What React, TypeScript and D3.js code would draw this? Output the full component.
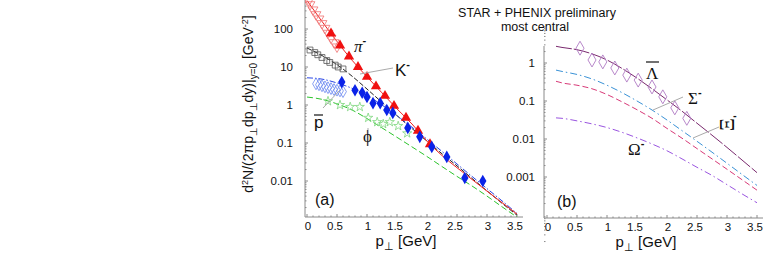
import React from 'react'
import * as d3 from 'd3'

// pT grid for the model curves (GeV)
const ptGrid = [0, 0.25, 0.5, 0.75, 1, 1.25, 1.5, 1.75, 2, 2.25, 2.5, 2.75, 3, 3.25, 3.5]
const ptGridB = [0.15, 0.25, 0.5, 0.75, 1, 1.25, 1.5, 1.75, 2, 2.25, 2.5, 2.75, 3, 3.25, 3.5]

// panel (a) model curves
const piCurve = [562, 158, 46.8, 15.1, 5.5, 2.09, 0.79, 0.316, 0.112, 0.0468, 0.0224, 0.011, 0.0054, 0.0027, 0.00135]
const kCurve = [31.6, 20, 11.5, 5.75, 2.63, 1.17, 0.525, 0.24, 0.112, 0.052, 0.025, 0.0117, 0.0055, 0.0026, 0.00126]
const pbarCurve = [5.2, 4.8, 3.8, 2.75, 1.78, 1.0, 0.52, 0.26, 0.126, 0.06, 0.028, 0.0132, 0.0063, 0.003, 0.0014]
const phiCurve = [1.62, 1.41, 1.07, 0.74, 0.44, 0.25, 0.141, 0.079, 0.044, 0.024, 0.0132, 0.0074, 0.004, 0.0021, 0.00112]

// panel (a) data points
const piStarPt = [0.03, 0.05, 0.1, 0.15, 0.2, 0.25, 0.3, 0.35, 0.4, 0.45, 0.5]
const piStarVal = [560, 440, 320, 240, 185, 140, 105, 78, 58, 44, 34]
const piPhxPt = [0.4, 0.55, 0.7, 0.85, 1.0, 1.15, 1.3, 1.45, 1.65, 1.85, 2.05]
const piPhxVal = [76, 37, 19, 10, 5.5, 3.1, 1.74, 0.95, 0.46, 0.21, 0.093]
const kStarPt = [0.05, 0.13, 0.18, 0.25, 0.33, 0.38, 0.47, 0.52, 0.6]
const kStarVal = [28, 24, 21, 17.8, 14.8, 13.2, 11.2, 10, 8.9]
const pbarStarPt = [0.15, 0.2, 0.25, 0.3, 0.35, 0.4, 0.45, 0.5, 0.55, 0.6]
const pbarStarVal = [3.6, 3.4, 3.2, 3.0, 2.85, 2.7, 2.55, 2.45, 2.35, 2.25]
const pbarPhxPt = [0.58, 0.8, 0.92, 1.0, 1.1, 1.22, 1.33, 1.43, 1.68, 1.88, 2.08, 2.33, 2.63, 2.93]
const pbarPhxVal = [4.0, 2.45, 2.1, 1.62, 1.12, 1.12, 0.74, 0.62, 0.25, 0.145, 0.079, 0.043, 0.012, 0.01]
const phiPt = [0.35, 0.55, 0.72, 0.88, 1.02, 1.17, 1.27, 1.38, 1.52, 1.67]
const phiVal = [1.26, 1.0, 0.89, 0.89, 0.46, 0.355, 0.316, 0.355, 0.28, 0.18]

// panel (b) model curves
const lambdaCurve = [2.75, 2.57, 2.24, 1.74, 1.2, 0.72, 0.4, 0.21, 0.107, 0.054, 0.026, 0.0126, 0.006, 0.0028, 0.0013]
const sigmaCurve = [0.65, 0.6, 0.5, 0.38, 0.26, 0.166, 0.1, 0.058, 0.0316, 0.0166, 0.0087, 0.0045, 0.0023, 0.00117, 0.0006]
const xiCurve = [0.33, 0.3, 0.26, 0.21, 0.148, 0.095, 0.059, 0.035, 0.019, 0.0105, 0.0056, 0.003, 0.0016, 0.00085, 0.00045]
const omegaCurve = [0.036, 0.035, 0.03, 0.025, 0.02, 0.015, 0.0107, 0.0074, 0.0049, 0.003, 0.0018, 0.0011, 0.00063, 0.00036, 0.00021]
const lambdaPt = [0.55, 0.75, 0.93, 1.13, 1.33, 1.52, 1.75, 1.93, 2.13, 2.33]
const lambdaVal = [2.45, 1.2, 1.07, 0.74, 0.48, 0.355, 0.234, 0.129, 0.066, 0.035]

const xTicks = [0, 0.5, 1, 1.5, 2, 2.5, 3, 3.5]
const yTicksA = [100, 10, 1, 0.1, 0.01]
const yTicksB = [1, 0.1, 0.01, 0.001]

const xA = d3.scaleLinear().domain([0, 3.5]).range([307, 517])
const yA = d3.scaleLog().domain([0.01, 100]).range([181, 29])
const xB = d3.scaleLinear().domain([0, 3.5]).range([547, 757])
const yB = d3.scaleLog().domain([0.001, 1]).range([177, 63])

const font = 'Arial, "Liberation Sans", sans-serif'
const serif = '"Liberation Serif", "DejaVu Serif", serif'
const axisColor = '#8a8a8a'

function curve(xs: number[], ys: number[], sx: any, sy: any) {
  const pts = xs.map((x, i) => [x, ys[i]] as [number, number])
  return d3
    .line<[number, number]>()
    .x((d) => sx(d[0]))
    .y((d) => sy(d[1]))
    .curve(d3.curveMonotoneX)(pts) as string
}

const sym = (type: any, size: number) => d3.symbol().type(type).size(size)() as string

function minorTicks(lo: number, hi: number) {
  const out: number[] = []
  for (let e = lo; e < hi; e++) {
    for (let m = 2; m <= 9; m++) out.push(m * Math.pow(10, e))
  }
  return out
}

const Axes = ({ sx, sy, x0, yTop, yBot, yTicks, minor, labelX }: any) => {
  const xMinor = d3.range(0, 3.55, 0.1)
  return (
    <g fontFamily={font} fill="#111">
      <line x1={x0} x2={x0} y1={yTop} y2={yBot} stroke={axisColor} />
      <line x1={x0} x2={sx(3.6)} y1={yBot} y2={yBot} stroke={axisColor} />
      {xMinor.map((v: number, i: number) => (
        <line key={'xm' + i} x1={sx(v)} x2={sx(v)} y1={yBot} y2={yBot - (i % 5 === 0 ? 3 : 1.5)} stroke={axisColor} />
      ))}
      {minor.map((v: number, i: number) => (
        <line key={'ym' + i} x1={x0} x2={x0 + 1.5} y1={sy(v)} y2={sy(v)} stroke={axisColor} />
      ))}
      {yTicks.map((v: number) => (
        <g key={'y' + v}>
          <line x1={x0} x2={x0 + 3} y1={sy(v)} y2={sy(v)} stroke={axisColor} />
          <text x={labelX} y={sy(v) + 4} textAnchor="end" fontSize={11.5}>
            {v}
          </text>
        </g>
      ))}
      {xTicks.map((v) => (
        <text key={'x' + v} x={sx(v) + (Number.isInteger(v) ? 1 : -2)} y={yBot + 13} textAnchor="middle" fontSize={11.5}>
          {v}
        </text>
      ))}
      <text x={sx(1.65)} y={yBot + 29} textAnchor="middle" fontSize={15}>
        p<tspan dy={4} fontSize={11}>⊥</tspan>
        <tspan dy={-4}>{'  [GeV]'}</tspan>
      </text>
    </g>
  )
}

const Minus = () => (
  <tspan dy={-8} fontSize={11} fontWeight="bold" fontFamily={font}>
    -
  </tspan>
)

export default function App() {
  const marksA = (
    <g>
      {piStarPt.map((p, i) => (
        <path key={'ps' + i} d={sym(d3.symbolTriangle, 42)} transform={`translate(${xA(p)},${yA(piStarVal[i])}) rotate(180)`} fill="none" stroke="#f07070" strokeWidth={0.8} />
      ))}
      {kStarPt.map((p, i) => (
        <path key={'ks' + i} d={sym(d3.symbolSquare, 34)} transform={`translate(${xA(p)},${yA(kStarVal[i])})`} fill="none" stroke="#555" strokeWidth={0.8} />
      ))}
      {pbarStarPt.map((p, i) => (
        <path key={'bs' + i} d={sym(d3.symbolDiamond, 40)} transform={`translate(${xA(p)},${yA(pbarStarVal[i])})`} fill="none" stroke="#6a86f0" strokeWidth={0.8} />
      ))}
      {phiPt.map((p, i) => (
        <path key={'ph' + i} d={sym(d3.symbolStar, 26)} transform={`translate(${xA(p)},${yA(phiVal[i])})`} fill="none" stroke="#7dd57d" strokeWidth={0.8} />
      ))}
      {piPhxPt.map((p, i) => (
        <path key={'pp' + i} d={sym(d3.symbolTriangle, 46)} transform={`translate(${xA(p)},${yA(piPhxVal[i])})`} fill="#f01010" />
      ))}
      {pbarPhxPt.map((p, i) => (
        <path key={'bp' + i} d={sym(d3.symbolDiamond, 46)} transform={`translate(${xA(p)},${yA(pbarPhxVal[i])})`} fill="#0a22e8" />
      ))}
    </g>
  )

  return (
    <svg width={763} height={265} style={{ position: 'absolute', left: 0, top: 0 }}>
      <defs>
        <clipPath id="clipA">
          <rect x={305} y={0} width={220} height={217} />
        </clipPath>
        <clipPath id="clipB">
          <rect x={544} y={40} width={219} height={178} />
        </clipPath>
      </defs>
      <rect width={763} height={265} fill="#fff" />

      {/* title */}
      <g fontFamily={font} fontSize={12.5} textAnchor="middle" fill="#111">
        <text x={537} y={17}>STAR + PHENIX preliminary</text>
        <text x={535} y={31}>most central</text>
      </g>

      {/* y label */}
      <text transform="translate(253,104) rotate(-90)" textAnchor="middle" fontFamily={font} fontSize={14} fill="#111">
        d<tspan dy={-5} fontSize={9}>2</tspan>
        <tspan dy={5}>N/(2πp</tspan>
        <tspan dy={4} fontSize={10}>⊥</tspan>
        <tspan dy={-4}>dp</tspan>
        <tspan dy={4} fontSize={10}>⊥</tspan>
        <tspan dy={-4}>dy)|</tspan>
        <tspan dy={4} fontSize={10}>y=0</tspan>
        <tspan dy={-4}>{'  [GeV'}</tspan>
        <tspan dy={-5} fontSize={9}>-2</tspan>
        <tspan dy={5}>]</tspan>
      </text>

      {/* panel (a) */}
      <Axes sx={xA} sy={yA} x0={305} yTop={0} yBot={217} yTicks={yTicksA} minor={minorTicks(-3, 3)} labelX={293} />
      <g clipPath="url(#clipA)" fill="none" strokeWidth={1}>
        <path d={curve(ptGrid, phiCurve, xA, yA)} stroke="#2cc42c" strokeDasharray="6,3" />
        <path d={curve(ptGrid, kCurve, xA, yA)} stroke="#222" strokeDasharray="5,2" />
        <path d={curve(ptGrid, pbarCurve, xA, yA)} stroke="#2a46e6" strokeDasharray="6,2,1.5,2" />
        <path d={curve(ptGrid, piCurve, xA, yA)} stroke="#f02020" />
        {marksA}
      </g>
      <g stroke="#aaa" strokeWidth={1}>
        <line x1={360} y1={74} x2={393} y2={68} />
        <line x1={323} y1={108} x2={340} y2={90} />
        <line x1={368} y1={128} x2={368} y2={146} />
      </g>
      <g fontSize={17} fill="#111">
        <text x={354} y={52} fontFamily={serif} fontStyle="italic">
          π<Minus />
        </text>
        <text x={395} y={76} fontFamily={font}>
          K<Minus />
        </text>
        <text x={314} y={128} fontFamily={font}>p</text>
        <line x1={314} x2={323} y1={115} y2={115} stroke="#111" strokeWidth={1.2} />
        <text x={363} y={142} fontFamily={serif}>ϕ</text>
        <text x={315} y={205} fontFamily={font} fontSize={16}>(a)</text>
      </g>

      {/* panel (b) */}
      <Axes sx={xB} sy={yB} x0={544} yTop={46} yBot={218} yTicks={yTicksB} minor={minorTicks(-5, 1)} labelX={535} />
      <g clipPath="url(#clipB)" fill="none" strokeWidth={1}>
        <path d={curve(ptGridB, omegaCurve, xB, yB)} stroke="#9a55e0" strokeDasharray="7,3,1.5,3" />
        <path d={curve(ptGridB, xiCurve, xB, yB)} stroke="#d83a78" strokeDasharray="6,3" />
        <path d={curve(ptGridB, sigmaCurve, xB, yB)} stroke="#3a92d6" strokeDasharray="7,3,1.5,3" />
        <path d={curve(ptGridB, lambdaCurve, xB, yB)} stroke="#7a2a6e" strokeDasharray="16,2" />
        {lambdaPt.map((p, i) => (
          <path key={'l' + i} d={sym(d3.symbolDiamond, 56)} transform={`translate(${xB(p)},${yB(lambdaVal[i])})`} fill="none" stroke="#b07ac4" strokeWidth={0.9} />
        ))}
      </g>
      <g stroke="#aaa" strokeWidth={1}>
        <line x1={653} y1={110} x2={683} y2={97} />
        <line x1={693} y1={138} x2={719} y2={127} />
      </g>
      <g fontSize={17} fill="#111" fontFamily={serif}>
        <text x={646} y={79}>Λ</text>
        <line x1={646} x2={659} y1={62} y2={62} stroke="#111" strokeWidth={1.2} />
        <text x={688} y={104}>
          Σ<Minus />
        </text>
        <text transform="translate(734,131) rotate(-90)" fontSize={20}>Ξ</text>
        <text x={733} y={119} fontFamily={font} fontSize={11} fontWeight="bold">-</text>
        <text x={628} y={155}>
          Ω<Minus />
        </text>
        <text x={557} y={207} fontFamily={font} fontSize={16}>(b)</text>
      </g>
    </svg>
  )
}
